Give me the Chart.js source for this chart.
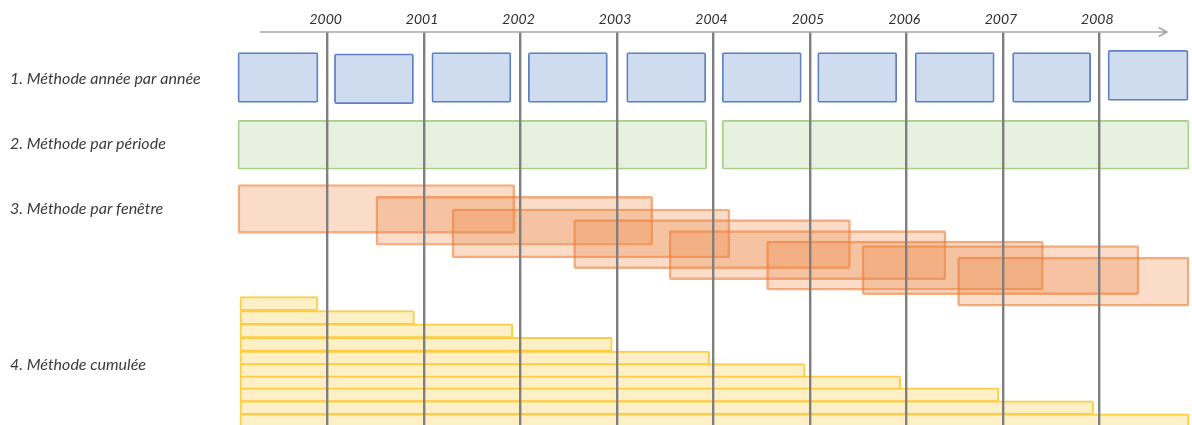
<!DOCTYPE html>
<html>
<head>
<meta charset="utf-8">
<script src="https://cdn.jsdelivr.net/npm/chart.js@4"></script>
<style>
  body { margin: 0; background: #fff; }
  #wrap { width: 1192px; height: 425px; position: relative; }
</style>
</head>
<body>
<div id="wrap"><canvas id="myChart"></canvas></div>
<script>
// Years shown on the time axis
const yearTicks = [2000, 2001, 2002, 2003, 2004, 2005, 2006, 2007, 2008];

// Row titles and the lane (vertical position) where each title sits
const rowLabels = ['1. Méthode année par année', '2. Méthode par période', '3. Méthode par fenêtre', '4. Méthode cumulée'];
const rowLabelLanes = [3.56, 8.57, 13.47, 25.4];

// 1. year by year
const annualFrom = [1999.07, 2000.07, 2001.08, 2002.08, 2003.10, 2004.09, 2005.08, 2006.09, 2007.10, 2008.09];
const annualTo   = [1999.90, 2000.89, 2001.90, 2002.90, 2003.92, 2004.91, 2005.90, 2006.91, 2007.91, 2008.92];
const annualLane = [3.47, 3.57, 3.47, 3.47, 3.47, 3.47, 3.47, 3.47, 3.47, 3.31];

// 2. by period
const periodFrom = [1999.07, 2004.09];
const periodTo   = [2003.93, 2008.93];
const periodLane = [8.61, 8.61];

// 3. sliding window
const windowFrom = [1999.07, 2000.50, 2001.29, 2002.55, 2003.54, 2004.55, 2005.54, 2006.53];
const windowTo   = [2001.94, 2003.37, 2004.17, 2005.42, 2006.41, 2007.42, 2008.41, 2008.93];
const windowLane = [13.51, 14.41, 15.38, 16.19, 17.03, 17.83, 18.18, 19.06];

// 4. cumulative
const cumulFrom = [1999.09, 1999.09, 1999.09, 1999.09, 1999.09, 1999.09, 1999.09, 1999.09, 1999.09, 1999.09];
const cumulTo   = [1999.90, 2000.90, 2001.92, 2002.95, 2003.96, 2004.95, 2005.94, 2006.96, 2007.94, 2008.93];
const cumulLane = [20.74, 21.80, 22.81, 23.85, 24.90, 25.85, 26.79, 27.70, 28.68, 29.69];

// axis arrow extent (in years)
const axisFrom = 1999.30;
const axisTo = 2008.70;

function toBars(from, to, lane) {
  return from.map(function(f, i) {
    return { x: [f, to[i]], y: lane[i] };
  });
}

function barSet(label, data, fill, border, thickness, width) {
  return {
    label: label,
    data: data,
    backgroundColor: fill,
    borderColor: border,
    borderWidth: width,
    borderRadius: 2,
    borderSkipped: false,
    barThickness: thickness,
    grouped: false
  };
}

// Draws the time axis line with its open arrow head
const axisArrow = {
  id: 'axisArrow',
  afterDraw(chart) {
    const ctx = chart.ctx;
    const x = chart.scales.x;
    const y = chart.chartArea.top;
    const x0 = x.getPixelForValue(axisFrom);
    const x1 = x.getPixelForValue(axisTo);
    ctx.save();
    ctx.strokeStyle = '#a6a6a6';
    ctx.lineWidth = 1.6;
    ctx.beginPath();
    ctx.moveTo(x0, y);
    ctx.lineTo(x1, y);
    ctx.moveTo(x1 - 8, y - 4.5);
    ctx.lineTo(x1, y);
    ctx.lineTo(x1 - 8, y + 4.5);
    ctx.stroke();
    ctx.restore();
  }
};

function drawChart() {
  const ctx = document.getElementById('myChart').getContext('2d');
  new Chart(ctx, {
    type: 'bar',
    data: {
      datasets: [
        barSet('Année par année', toBars(annualFrom, annualTo, annualLane), '#cfdbee', '#5f80c2', 50, 1.8),
        barSet('Par période', toBars(periodFrom, periodTo, periodLane), '#e6f1df', '#a6cf8a', 49, 1.8),
        barSet('Par fenêtre', toBars(windowFrom, windowTo, windowLane), 'rgba(238,128,60,0.28)', 'rgba(236,120,45,0.6)', 49, 1.8),
        barSet('Cumulée', toBars(cumulFrom, cumulTo, cumulLane), '#fdf0c6', '#fccd45', 14, 2)
      ]
    },
    options: {
      indexAxis: 'y',
      responsive: true,
      maintainAspectRatio: false,
      animation: false,
      layout: { padding: { left: 10, right: 1, top: 0, bottom: 0 } },
      plugins: {
        legend: { display: false },
        tooltip: { enabled: false }
      },
      scales: {
        x: {
          type: 'linear',
          position: 'top',
          min: 1999.05,
          max: 2008.95,
          afterBuildTicks: function(scale) {
            scale.ticks = yearTicks.map(function(v) { return { value: v }; });
          },
          afterFit: function(scale) {
            scale.height = 32;
            scale.paddingLeft = 0;
            scale.paddingRight = 0;
          },
          grid: {
            color: '#7f7f7f',
            lineWidth: 2.4,
            drawTicks: false,
            z: 1
          },
          border: { display: false },
          ticks: {
            padding: 4,
            labelOffset: -2,
            color: '#2e2e2e',
            font: { family: 'Lato', style: 'italic', size: 14 },
            callback: function(v) { return String(v); }
          }
        },
        y: {
          type: 'linear',
          position: 'left',
          reverse: true,
          offset: false,
          min: 0,
          max: 30,
          afterBuildTicks: function(scale) {
            scale.ticks = rowLabelLanes.map(function(v) { return { value: v }; });
          },
          afterFit: function(scale) {
            scale.width = 226;
            scale.paddingTop = 0;
            scale.paddingBottom = 0;
          },
          grid: { display: false },
          border: { display: false },
          ticks: {
            crossAlign: 'far',
            padding: 0,
            color: '#3a3a3a',
            font: { family: 'Lato', style: 'italic', size: 16 },
            callback: function(v, i) { return rowLabels[i]; }
          }
        }
      }
    },
    plugins: [axisArrow]
  });
}

window.onload = drawChart;
</script>
</body>
</html>
